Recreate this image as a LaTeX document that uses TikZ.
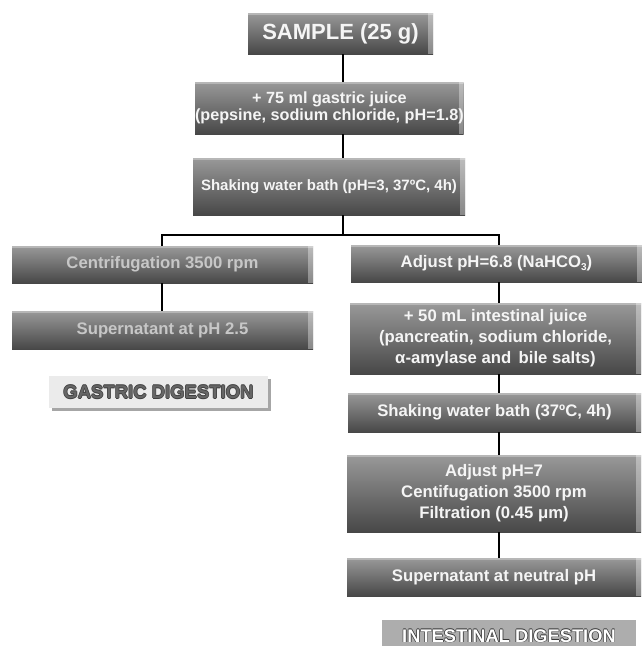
\documentclass[tikz,border=0pt]{standalone}
\usepackage{fontspec}
\setmainfont{Liberation Sans}
\newcommand\outlinedtext[3]{\leavevmode\rlap{\color{#1}\hspace{0.7pt}#3}\rlap{\color{#1}\hspace{-0.7pt}#3}\rlap{\color{#1}\raisebox{0.7pt}{#3}}\rlap{\color{#1}\raisebox{-0.7pt}{#3}}{\color{#2}#3}}
\newcommand\lowsub[1]{\raisebox{-3pt}{\fontsize{10}{10}\selectfont #1}}
\definecolor{lighttxt}{gray}{0.78}
\definecolor{whitetxt}{gray}{0.96}
\begin{document}
\begin{tikzpicture}[x=1pt,y=-1pt,
  pbox/.style={rectangle, anchor=north west, inner sep=0pt, outer sep=0pt,
    top color=black!40, bottom color=black!72, text=whitetxt,
    font=\fontsize{16.7}{21}\selectfont\bfseries, align=center,
    path picture={
      \fill[white,opacity=0.35] ([xshift=-5pt]path picture bounding box.north east) rectangle (path picture bounding box.south east);
      \fill[white,opacity=0.3] (path picture bounding box.north west) rectangle ([yshift=-2pt]path picture bounding box.north east);
    }},
  lbox/.style={pbox, text=lighttxt},
  conn/.style={draw=black, line width=1.6pt},
]
\useasboundingbox (0,0) rectangle (642,646);
\coordinate (spineA) at (343,0);
\coordinate (spineL) at (162,0);
\coordinate (spineR) at (499,0);
\coordinate (split) at (343,235);

% top chain
\node[pbox, minimum width=185pt, minimum height=41pt, font=\fontsize{22}{24}\selectfont\bfseries] (sample) at (248,13) {SAMPLE (25 g)};
\node[pbox, minimum width=267pt, minimum height=52pt, font=\fontsize{16.2}{17}\selectfont\bfseries] (gj) at (195,82) {+ 75 ml gastric juice\\(pepsine, sodium chloride, pH=1.8)};
\node[pbox, minimum width=272pt, minimum height=57pt, font=\fontsize{15}{18}\selectfont\bfseries] (sh1) at (193,158) {Shaking water bath (pH=3, 37ºC, 4h)};

% left branch
\node[lbox, minimum width=301pt, minimum height=37pt] (cent) at (12,246) {Centrifugation 3500 rpm};
\node[lbox, minimum width=301pt, minimum height=38pt] (sup1) at (12,311) {Supernatant at pH 2.5};
\fill[black!35] (52,379) rectangle (271,411);
\node[rectangle, anchor=north west, inner sep=0pt, outer sep=0pt, fill=black!8,
  minimum width=219pt, minimum height=32pt, font=\fontsize{18.5}{20}\selectfont\bfseries] (glab) at (49,376)
  {\outlinedtext{black!75}{black!60}{GASTRIC DIGESTION}};

% right branch
\node[pbox, minimum width=291pt, minimum height=37pt] (adj) at (351,245) {Adjust pH=6.8 (NaHCO\lowsub{3})};
\node[pbox, minimum width=291pt, minimum height=71pt] (ij) at (350,303) {+ 50 mL intestinal juice\\(pancreatin, sodium chloride,\\α-amylase and\, bile salts)};
\node[pbox, minimum width=293pt, minimum height=39pt] (sh2) at (348,393) {Shaking water bath (37ºC, 4h)};
\node[pbox, minimum width=294pt, minimum height=77pt] (adj7) at (347,455) {Adjust pH=7\\Centifugation 3500 rpm\\Filtration (0.45 μm)};
\node[pbox, minimum width=294pt, minimum height=38pt] (sup2) at (347,558) {Supernatant at neutral pH};
\node[rectangle, anchor=north west, inner sep=0pt, outer sep=0pt, fill=black!32,
  minimum width=254pt, minimum height=32pt, font=\fontsize{18.3}{20}\selectfont\bfseries] (ilab) at (382,620)
  {\raisebox{1pt}{\outlinedtext{black!80}{white}{INTESTINAL DIGESTION}}};

% connectors
\draw[conn] (sample.south -| spineA) -- (gj.north -| spineA);
\draw[conn] (gj.south -| spineA) -- (sh1.north -| spineA);
\draw[conn] (sh1.south -| spineA) -- (split);
\draw[conn] (cent.north -| spineL) -- (split -| spineL) -- (split -| spineR) -- (adj.north -| spineR);
\draw[conn] (cent.south -| spineL) -- (sup1.north -| spineL);
\draw[conn] (adj.south -| spineR) -- (ij.north -| spineR);
\draw[conn] (ij.south -| spineR) -- (sh2.north -| spineR);
\draw[conn] (sh2.south -| spineR) -- (adj7.north -| spineR);
\draw[conn] (adj7.south -| spineR) -- (sup2.north -| spineR);
\end{tikzpicture}
\end{document}
